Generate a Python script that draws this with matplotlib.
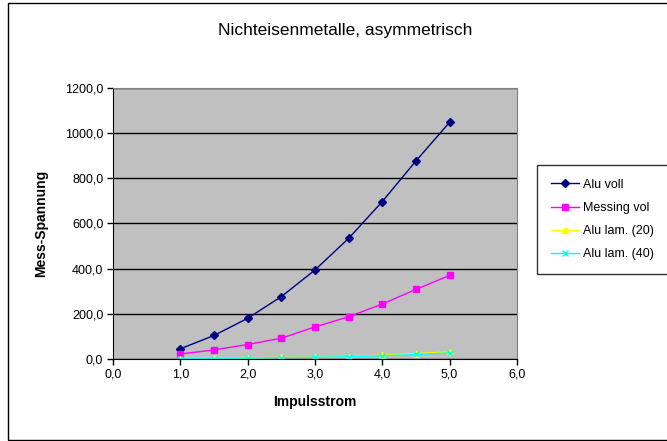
import matplotlib.pyplot as plt
from matplotlib.patches import Rectangle
from matplotlib.ticker import FuncFormatter

plt.rcParams['font.family'] = ['Liberation Sans', 'DejaVu Sans']

# Messwerte
strom = [1.0, 1.5, 2.0, 2.5, 3.0, 3.5, 4.0, 4.5, 5.0]
alu_voll = [45, 104, 180, 276, 394, 534, 697, 877, 1048]
messing_voll = [22, 40, 64, 92, 142, 187, 243, 308, 370]
alu_lam_20 = [2, 3, 5, 7, 9, 10, 17, 24, 31]
alu_lam_40 = [1, 2, 4, 6, 8, 10, 14, 20, 27]

fig = plt.figure(figsize=(6.67, 4.41), dpi=100)
ax = fig.add_axes([0.1694, 0.186, 0.6056, 0.6145])
ax.set_facecolor('#c0c0c0')

ax.plot(strom, alu_voll, color='#000080', lw=1, marker='D', ms=4, label='Alu voll')
ax.plot(strom, messing_voll, color='#ff00ff', lw=1, marker='s', ms=5, label='Messing vol')
ax.plot(strom, alu_lam_20, color='#ffff00', lw=1, marker='^', ms=5, label='Alu lam. (20)')
ax.plot(strom, alu_lam_40, color='#00ffff', lw=1, marker='x', ms=4, mew=1, label='Alu lam. (40)')

ax.set_xlim(0, 6)
ax.set_ylim(0, 1200)
ax.set_xticks(range(0, 7))
ax.set_yticks(range(0, 1201, 200))
fmt = FuncFormatter(lambda v, p: ('%.1f' % v).replace('.', ','))
ax.xaxis.set_major_formatter(fmt)
ax.yaxis.set_major_formatter(fmt)
ax.tick_params(labelsize=9, length=4, width=1, direction='out', pad=3)
ax.grid(axis='y', color='black', lw=1)
ax.set_axisbelow(True)
for s in ax.spines.values():
    s.set_color('#808080')
ax.spines['left'].set_color('black')
ax.spines['bottom'].set_color('black')

ax.set_xlabel('Impulsstrom', fontsize=10, fontweight='bold', labelpad=10)
ax.set_ylabel('Mess-Spannung', fontsize=10, fontweight='bold', labelpad=12)
fig.text(0.517, 0.93, 'Nichteisenmetalle, asymmetrisch', ha='center', va='center',
         fontsize=12.5, fontweight='medium')

leg = fig.legend(loc='upper left', bbox_to_anchor=(0.805, 0.626), fontsize=9,
                 frameon=True, fancybox=False, edgecolor='black', borderpad=1.1,
                 borderaxespad=0, handlelength=2.3, handletextpad=0.3, labelspacing=0.9)
leg.get_frame().set_linewidth(1)

# Rahmen um das Diagramm
fig.patches.append(Rectangle((0.012, 0.003), 1.2, 0.99, transform=fig.transFigure,
                             fill=False, edgecolor='black', lw=1))

fig.savefig('out.png', dpi=100)
